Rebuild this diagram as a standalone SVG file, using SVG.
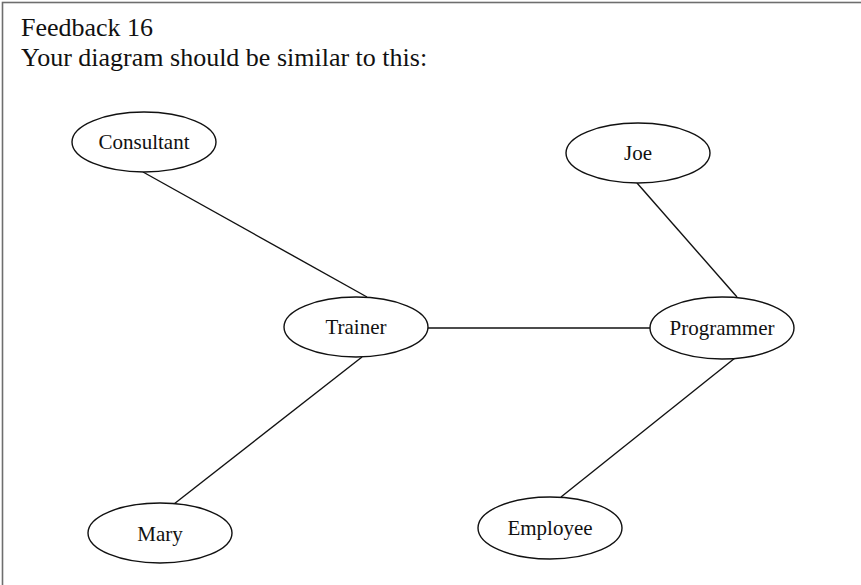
<svg xmlns="http://www.w3.org/2000/svg" width="861" height="585" viewBox="0 0 861 585">
  <style>
    .frame { fill: #ffffff; stroke: #6e6e6e; stroke-width: 1.6; }
    .title { font-family: "Liberation Serif", "Times New Roman", serif; font-size: 26px; fill: #111111; }
    .node ellipse { fill: #ffffff; stroke: #111111; stroke-width: 1.4; }
    .node text { font-family: "Liberation Serif", "Times New Roman", serif; font-size: 21px; fill: #111111; text-anchor: middle; }
    .edges line { stroke: #111111; stroke-width: 1.4; }
  </style>

  <rect class="frame" x="2.5" y="2.5" width="900" height="700"/>
  <text class="title" x="21" y="36">Feedback 16</text>
  <text class="title" x="21" y="66">Your diagram should be similar to this:</text>

  <g id="connectors" class="edges">
    <line x1="143" y1="172" x2="367" y2="297"/>
    <line x1="637" y1="183" x2="737" y2="297"/>
    <line x1="428" y1="328" x2="651" y2="328"/>
    <line x1="362" y1="357" x2="174" y2="504"/>
    <line x1="735" y1="358" x2="561" y2="497"/>
  </g>

  <g id="consultant" class="node">
    <ellipse cx="144" cy="142" rx="72" ry="30"/>
    <text x="144" y="149">Consultant</text>
  </g>
  <g id="joe" class="node">
    <ellipse cx="638" cy="153" rx="72" ry="30"/>
    <text x="638" y="160">Joe</text>
  </g>
  <g id="trainer" class="node">
    <ellipse cx="356" cy="327" rx="72" ry="30"/>
    <text x="356" y="334">Trainer</text>
  </g>
  <g id="programmer" class="node">
    <ellipse cx="722" cy="328" rx="72" ry="31"/>
    <text x="722" y="335">Programmer</text>
  </g>
  <g id="mary" class="node">
    <ellipse cx="160" cy="533" rx="72" ry="30"/>
    <text x="160" y="541">Mary</text>
  </g>
  <g id="employee" class="node">
    <ellipse cx="550" cy="528" rx="72" ry="31"/>
    <text x="550" y="535">Employee</text>
  </g>
</svg>
